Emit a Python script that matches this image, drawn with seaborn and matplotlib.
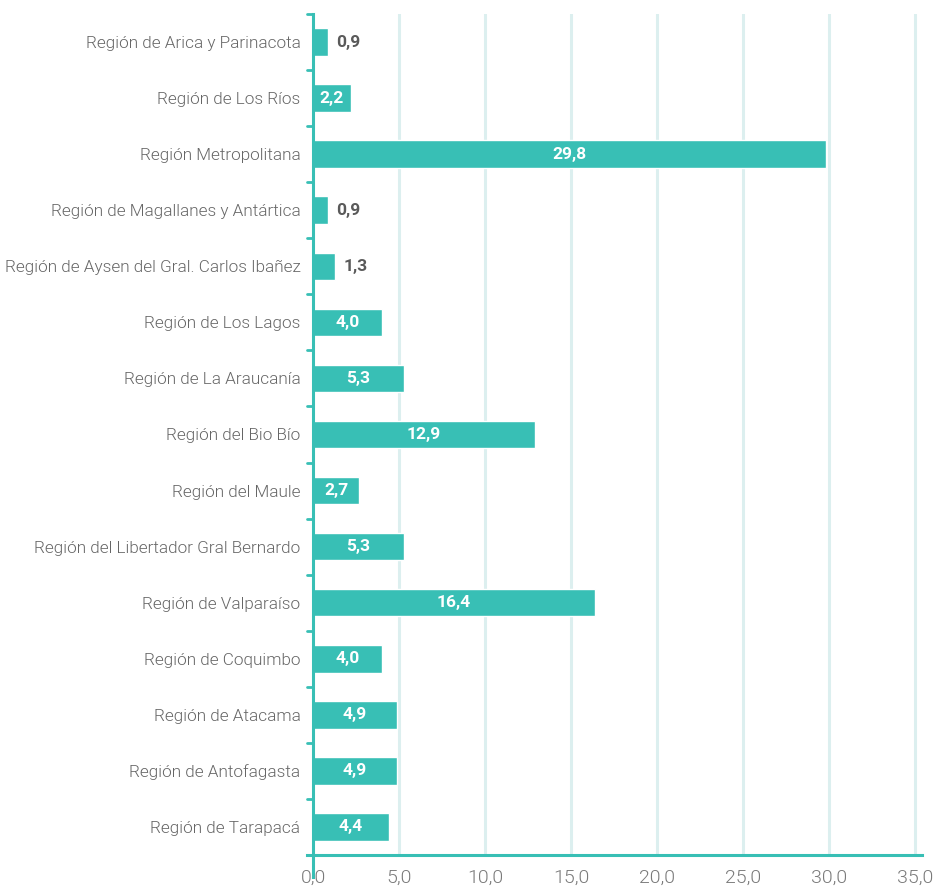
import pandas as pd
import matplotlib.pyplot as plt
import seaborn as sns

# datos
regiones = [
    "Región de Arica y Parinacota",
    "Región de Los Ríos",
    "Región Metropolitana",
    "Región de Magallanes y Antártica",
    "Región de Aysen del Gral. Carlos Ibañez",
    "Región de Los Lagos",
    "Región de La Araucanía",
    "Región del Bio Bío",
    "Región del Maule",
    "Región del Libertador Gral Bernardo",
    "Región de Valparaíso",
    "Región de Coquimbo",
    "Región de Atacama",
    "Región de Antofagasta",
    "Región de Tarapacá",
]
valores = [0.9, 2.2, 29.8, 0.9, 1.3, 4.0, 5.3, 12.9, 2.7, 5.3, 16.4, 4.0, 4.9, 4.9, 4.4]
xticks = [0, 5, 10, 15, 20, 25, 30, 35]

df = pd.DataFrame({"region": regiones, "valor": valores})

verde = "#38bfb5"
gris = "#666666"

sns.set_style("white")
plt.rcParams["font.family"] = ["Roboto", "DejaVu Sans"]

fig = plt.figure(figsize=(9.34, 8.9), dpi=100)
ax = fig.add_axes([313 / 934, 1 - 855 / 890, 609 / 934, (855 - 14) / 890])

sns.barplot(data=df, x="valor", y="region", color=verde, saturation=1,
            width=0.49, ax=ax, zorder=3)

ax.set_xlim(0, 35.4)
ax.set_ylim(len(regiones) - 0.5, -0.5)
ax.set_xticks(xticks)
ax.set_xticklabels([f"{t:.1f}".replace(".", ",") for t in xticks],
                   fontsize=14, color="#7a7a7a", fontweight=300)
ax.set_yticks(range(len(regiones)))
ax.set_yticklabels(regiones, fontsize=12.3, color=gris, fontweight=300)
ax.set_xlabel("")
ax.set_ylabel("")

# rejilla vertical
for t in xticks[1:]:
    ax.axvline(t, color="#dcefef", lw=2.2, zorder=1)

# ejes
for s in ["top", "right"]:
    ax.spines[s].set_visible(False)
for s in ["left", "bottom"]:
    ax.spines[s].set_color(verde)
    ax.spines[s].set_linewidth(2.2)
    ax.spines[s].set_zorder(4)
ax.spines["bottom"].set_bounds(-0.35, 35.4)
ax.spines["left"].set_bounds(len(regiones) - 0.5 + 0.4, -0.5)

ax.tick_params(axis="x", length=7, width=2, color=verde, pad=3)
ax.tick_params(axis="y", length=0, pad=9)
# marcas entre categorias
for b in [i - 0.5 for i in range(len(regiones))]:
    ax.plot([-0.35, 0], [b, b], color=verde, lw=2, clip_on=False, zorder=4)

# etiquetas de valores
for i, v in enumerate(valores):
    txt = f"{v:.1f}".replace(".", ",")
    if v >= 2:
        ax.text(v / 2, i, txt, ha="center", va="center", color="white",
                fontsize=12.5, fontweight="bold", zorder=5)
    else:
        ax.text(v + 0.45, i, txt, ha="left", va="center", color="#5a5a5a",
                fontsize=12.5, fontweight="bold", zorder=5)

fig.savefig("out.png", dpi=100)
